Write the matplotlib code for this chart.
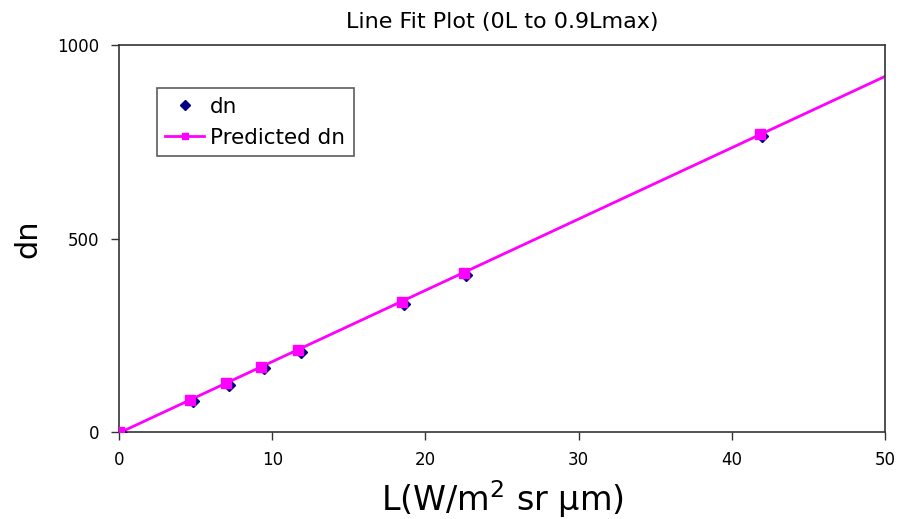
import numpy as np
import matplotlib
matplotlib.use("Agg")
import matplotlib.pyplot as plt

# Data
L = [0.0, 4.65, 7.0, 9.3, 11.7, 18.45, 22.5, 41.85]
dn = [-2, 79, 121, 165, 207, 331, 405, 764]
predicted_dn = [0.0, 82, 126, 169, 213, 336, 411, 770]

title = "Line Fit Plot (0L to 0.9Lmax)"
xticks = [0, 10, 20, 30, 40, 50]
yticks = [0, 500, 1000]

fig = plt.figure(figsize=(9.09, 5.19), dpi=100)
ax = fig.add_axes([0.1309, 0.1676, 0.8427, 0.7457])

# fitted line spanning the whole x range
coef = np.polyfit(L, predicted_dn, 1)
xl = np.array([0, 50])
ax.plot(xl, np.polyval(coef, xl), color="#FF00FF", lw=2, zorder=2)

ax.plot(np.array(L) + 0.15, dn, linestyle="none", marker="D", color="#000080",
        ms=6, zorder=3)
ax.plot(L, predicted_dn, linestyle="none", marker="s", color="#FF00FF",
        ms=7, zorder=4)
# legend proxies
ax.plot([], [], linestyle="none", marker="D", color="#000080", ms=5, label="dn")
ax.plot([], [], color="#FF00FF", lw=2, marker="s", ms=5, label="Predicted dn")

ax.set_xlim(0, 50)
ax.set_ylim(0, 1000)
ax.set_xticks(xticks)
ax.set_yticks(yticks)
ax.tick_params(direction="out", length=6, width=1, color="#333333",
               labelsize=12)
ax.tick_params(axis="x", pad=8)
ax.tick_params(axis="y", pad=8)
for s in ax.spines.values():
    s.set_color("#333333")
    s.set_linewidth(1.2)

ax.set_title(title, fontsize=16, pad=12)
ax.set_xlabel("L(W/m$^2$ sr \u03bcm)", fontsize=24, labelpad=6)
ax.set_ylabel("dn", fontsize=22, labelpad=11)

leg = ax.legend(loc="upper left", bbox_to_anchor=(0.049, 0.888), fontsize=15.5,
                frameon=True, fancybox=False, edgecolor="#333333",
                handlelength=1.8, handletextpad=0.3, borderpad=0.4,
                labelspacing=0.5, borderaxespad=0)
leg.get_frame().set_linewidth(1.2)

fig.savefig("out.png", dpi=100)
